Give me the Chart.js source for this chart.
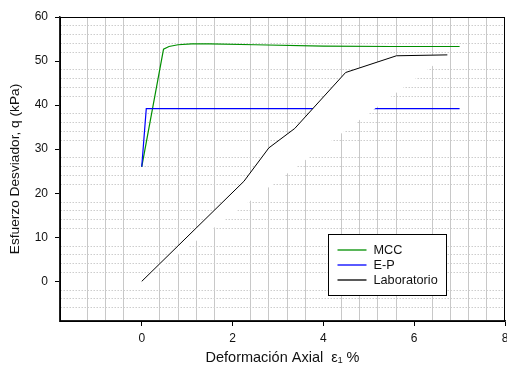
<!DOCTYPE html>
<html>
<head>
<meta charset="utf-8">
<script src="https://cdn.jsdelivr.net/npm/chart.js@4.4.0/dist/chart.umd.min.js"></script>
<style>
  html, body { margin: 0; padding: 0; background: #fff; overflow: hidden; }
  #wrap { width: 507px; height: 372px; }
</style>
</head>
<body>
<div id="wrap"><canvas id="chart"></canvas></div>
<script>
// values
const seriesNames = ['MCC', 'E-P', 'Laboratorio'];
const mccX = [0, 0.48, 0.6, 0.8, 1.1, 1.5, 2.5, 4, 5.5, 7];
const mccY = [26, 52.7, 53.3, 53.7, 53.9, 53.9, 53.7, 53.4, 53.3, 53.3];
const epX = [0, 0.1, 7];
const epY = [26, 39.2, 39.2];
const labX = [0, 2.25, 2.8, 3.37, 4.49, 5.61, 6.73];
const labY = [0, 22.7, 30.3, 34.7, 47.4, 51.2, 51.4];
const xTickLabels = [0, 2, 4, 6, 8];
const yTickLabels = [0, 10, 20, 30, 40, 50, 60];

const FONT = "'Liberation Sans', Arial, sans-serif";

function toPoints(xs, ys) {
  return xs.map((x, i) => ({ x: x, y: ys[i] }));
}
function isMajor(list, v) {
  return list.some(m => Math.abs(m - v) < 1e-6);
}

// box around the plot + legend drawn inside the plot area
const frameLegend = {
  id: 'frameLegend',
  afterDraw(chart) {
    const ctx = chart.ctx;
    const a = chart.chartArea;
    ctx.save();
    ctx.strokeStyle = '#000';
    ctx.lineWidth = 1;
    ctx.strokeRect(Math.round(a.left) + 0.5, Math.round(a.top) + 0.5,
      Math.round(a.right - a.left) - 1, Math.round(a.bottom - a.top));

    const bx = Math.round(a.left + 268) + 0.5;
    const by = Math.round(a.top + 217) + 0.5;
    ctx.fillStyle = '#fff';
    ctx.fillRect(bx, by, 118, 61);
    ctx.strokeRect(bx, by, 118, 61);
    ctx.font = '12.7px ' + FONT;
    ctx.textBaseline = 'middle';
    chart.data.datasets.forEach((ds, i) => {
      const y = Math.round(by + 15 + i * 15);
      ctx.strokeStyle = ds.borderColor;
      ctx.lineWidth = 1.3;
      ctx.beginPath();
      ctx.moveTo(bx + 9, y);
      ctx.lineTo(bx + 38, y);
      ctx.stroke();
      ctx.fillStyle = '#111';
      ctx.fillText(ds.label, bx + 45, y);
    });
    ctx.restore();
  }
};

new Chart(document.getElementById('chart'), {
  type: 'line',
  data: {
    datasets: [
      {
        label: seriesNames[0],
        data: toPoints(mccX, mccY),
        borderColor: '#008f00',
        borderWidth: 1.2,
        pointRadius: 0,
        fill: false,
        order: 3
      },
      {
        label: seriesNames[1],
        data: toPoints(epX, epY),
        borderColor: '#0000ff',
        borderWidth: 1.2,
        pointRadius: 0,
        fill: false,
        order: 2
      },
      {
        label: seriesNames[2],
        data: toPoints(labX, labY),
        borderColor: '#000000',
        backgroundColor: '#ffffff',
        borderWidth: 1,
        pointRadius: 0,
        fill: 'shape',
        order: 1
      }
    ]
  },
  options: {
    responsive: true,
    maintainAspectRatio: false,
    animation: false,
    layout: { padding: { top: 17, right: 2, left: 0, bottom: 0 } },
    plugins: {
      legend: { display: false },
      tooltip: { enabled: false }
    },
    scales: {
      x: {
        type: 'linear',
        min: -1.8,
        max: 8,
        afterFit(s) {
          s.height = 51;
          s.paddingLeft = 0;
          s.paddingRight = 0;
        },
        ticks: {
          stepSize: 0.4,
          autoSkip: false,
          maxRotation: 0,
          padding: 5,
          color: '#111',
          font: { family: FONT, size: 12 },
          callback: v => isMajor(xTickLabels, v) ? String(Math.round(v)) : ''
        },
        grid: {
          color: c => (c.tick && !isMajor(xTickLabels, c.tick.value)) ? '#c8c8c8' : 'rgba(0,0,0,0)',
          tickColor: c => (c.tick && isMajor(xTickLabels, c.tick.value)) ? '#000' : 'rgba(0,0,0,0)',
          lineWidth: 1,
          tickLength: 5
        },
        border: { color: '#222', width: 1.5 },
        title: {
          display: true,
          text: 'Deformación Axial  ε₁ %',
          color: '#111',
          font: { family: FONT, size: 14.5 },
          padding: { top: 5, bottom: 5 }
        }
      },
      y: {
        type: 'linear',
        min: -9,
        max: 60,
        afterFit(s) {
          s.width = 60;
        },
        ticks: {
          stepSize: 2,
          autoSkip: false,
          padding: 7,
          color: '#111',
          font: { family: FONT, size: 12 },
          callback: v => isMajor(yTickLabels, v) ? String(Math.round(v)) : ''
        },
        grid: {
          color: c => (c.tick && !isMajor(yTickLabels, c.tick.value)) ? '#cdcdcd' : 'rgba(0,0,0,0)',
          tickColor: c => (c.tick && isMajor(yTickLabels, c.tick.value)) ? '#000' : 'rgba(0,0,0,0)',
          lineWidth: 1,
          tickLength: 5,
          tickBorderDash: []
        },
        border: { color: '#222', width: 1.5, dash: [1.5, 1.5] },
        title: {
          display: true,
          text: 'Esfuerzo Desviador, q (kPa)',
          color: '#111',
          font: { family: FONT, size: 13.7 },
          padding: { top: 7.5, bottom: 7.5 }
        }
      }
    }
  },
  plugins: [frameLegend]
});
</script>
</body>
</html>
